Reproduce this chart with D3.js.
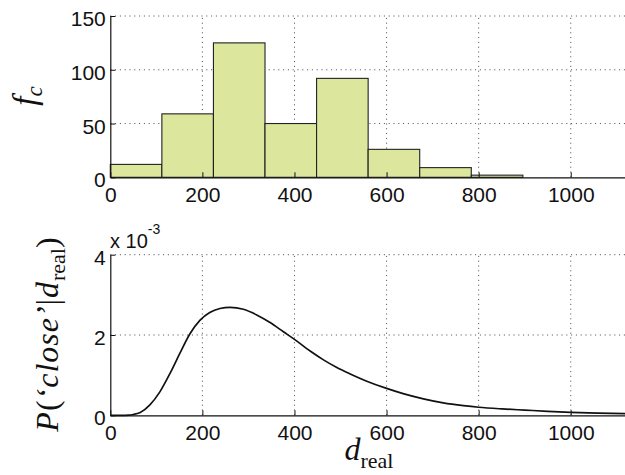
<!DOCTYPE html>
<html>
<head>
<meta charset="utf-8">
<script src="https://cdn.jsdelivr.net/npm/d3@7/dist/d3.min.js"></script>
<style>
  html, body { margin: 0; padding: 0; background: #fff; }
  svg { display: block; }
  .tick text { font-family: "Liberation Sans", Arial, sans-serif; font-size: 21px; fill: #111; }
  .math { font-family: "Liberation Serif", "DejaVu Serif", serif; fill: #111; }
</style>
</head>
<body>
<script>
// Histogram of distances (bin left edges and counts)
const binEdges = [0, 112, 224, 336, 448, 560, 672, 784, 896];
const binCounts = [12, 59, 125, 50, 92, 26, 9, 2];

// Probability curve P('close' | d_real), values in units of 1e-3
const curveD = [0, 25, 40, 50, 65, 86, 108, 130, 151, 173, 195, 216, 238, 260, 289, 318, 347, 376, 400,
                434, 463, 492, 521, 557, 600, 636, 680, 723, 767, 800, 850, 900, 950, 1000, 1060, 1120];
const curveP = [0, 0, 0.005, 0.02, 0.07, 0.26, 0.59, 1.05, 1.54, 2.03, 2.37, 2.56, 2.66, 2.69, 2.64, 2.50, 2.31, 2.08, 1.89,
                1.60, 1.38, 1.19, 1.03, 0.85, 0.67, 0.54, 0.41, 0.31, 0.24, 0.20, 0.16, 0.13, 0.10, 0.075, 0.055, 0.04];

// Tick values
const xTicks = [0, 200, 400, 600, 800, 1000];
const histTicks = [0, 50, 100, 150];
const probTicks = [0, 2, 4];

const W = 625, H = 475;
const svg = d3.select("body").append("svg").attr("width", W).attr("height", H);

const x = d3.scaleLinear().domain([0, 1120]).range([110.3, 626]);
const yTop = d3.scaleLinear().domain([0, 150]).range([177.3, 16]);
const yBot = d3.scaleLinear().domain([0, 4]).range([415.3, 254.7]);

function grid(g, y, yt) {
  const [x0, x1] = x.range();
  const [yb, ytop] = y.range();
  g.selectAll("line.gx").data(xTicks.filter(d => d > 0)).join("line")
    .attr("x1", d => x(d)).attr("x2", d => x(d))
    .attr("y1", yb).attr("y2", ytop);
  g.selectAll("line.gy").data(yt.filter(d => d > 0)).join("line")
    .attr("x1", x0).attr("x2", x1)
    .attr("y1", d => y(d)).attr("y2", d => y(d));
  g.selectAll("line")
    .attr("stroke", "#333").attr("stroke-width", 0.9)
    .attr("stroke-dasharray", "1,3.8");
}

function axes(y, yt) {
  const bottom = svg.append("g")
    .attr("transform", `translate(0,${y.range()[0]})`)
    .call(d3.axisBottom(x).tickValues(xTicks).tickFormat(d3.format("d"))
      .tickSizeInner(-5).tickSizeOuter(0).tickPadding(10));
  const left = svg.append("g")
    .attr("transform", `translate(${x.range()[0]},0)`)
    .call(d3.axisLeft(y).tickValues(yt).tickFormat(d3.format("d"))
      .tickSizeInner(-5).tickSizeOuter(0).tickPadding(4.5));
  left.selectAll(".tick text").attr("dy", "0.46em");
  [bottom, left].forEach(a => {
    a.select(".domain").attr("stroke", "#111").attr("stroke-width", 1.2);
    a.selectAll(".tick line").attr("stroke", "#111");
  });
}

// ---- Top panel: histogram ----
grid(svg.append("g"), yTop, histTicks);

svg.append("g").selectAll("rect").data(binCounts).join("rect")
  .attr("x", (d, i) => x(binEdges[i]))
  .attr("width", (d, i) => x(binEdges[i + 1]) - x(binEdges[i]))
  .attr("y", d => yTop(d))
  .attr("height", d => yTop(0) - yTop(d))
  .attr("fill", "#dce69d")
  .attr("stroke", "#222")
  .attr("stroke-width", 1.1);

axes(yTop, histTicks);

// ---- Bottom panel: probability curve ----
grid(svg.append("g"), yBot, probTicks);

const pts = curveD.map((d, i) => [d, curveP[i]]);
svg.append("path").datum(pts)
  .attr("fill", "none").attr("stroke", "#111").attr("stroke-width", 1.7)
  .attr("d", d3.line().x(d => x(d[0])).y(d => yBot(d[1])).curve(d3.curveMonotoneX));

axes(yBot, probTicks);

// Exponent label
const expo = svg.append("text")
  .attr("x", 110).attr("y", 248)
  .style("font-family", "Liberation Sans, Arial, sans-serif")
  .style("font-size", "20px").style("fill", "#111");
expo.append("tspan").text("x 10");
expo.append("tspan").attr("dy", -14).style("font-size", "14px").text("-3");

// Axis titles
const fc = svg.append("text").attr("class", "math")
  .attr("transform", "translate(36,96) rotate(-90)")
  .attr("text-anchor", "middle").style("font-size", "33px");
fc.append("tspan").style("font-style", "italic").text("f");
fc.append("tspan").attr("dy", 6).style("font-style", "italic").style("font-size", "23px").text("c");

const pl = svg.append("text").attr("class", "math")
  .attr("transform", "translate(58,334) rotate(-90)")
  .attr("text-anchor", "middle").style("font-size", "32px")
  .style("letter-spacing", "1px");
pl.append("tspan").style("font-style", "italic").text("P");
pl.append("tspan").text("(");
pl.append("tspan").style("font-style", "italic").text("\u2018close\u2019");
pl.append("tspan").text("|");
pl.append("tspan").style("font-style", "italic").text("d");
pl.append("tspan").attr("dy", 7).style("font-size", "22px").style("letter-spacing", "0px").text("real");
pl.append("tspan").attr("dy", -7).text(")");

const xl = svg.append("text").attr("class", "math")
  .attr("x", 369).attr("y", 460)
  .attr("text-anchor", "middle").style("font-size", "32px");
xl.append("tspan").style("font-style", "italic").text("d");
xl.append("tspan").attr("dy", 8).style("font-size", "22px").text("real");
</script>
</body>
</html>
